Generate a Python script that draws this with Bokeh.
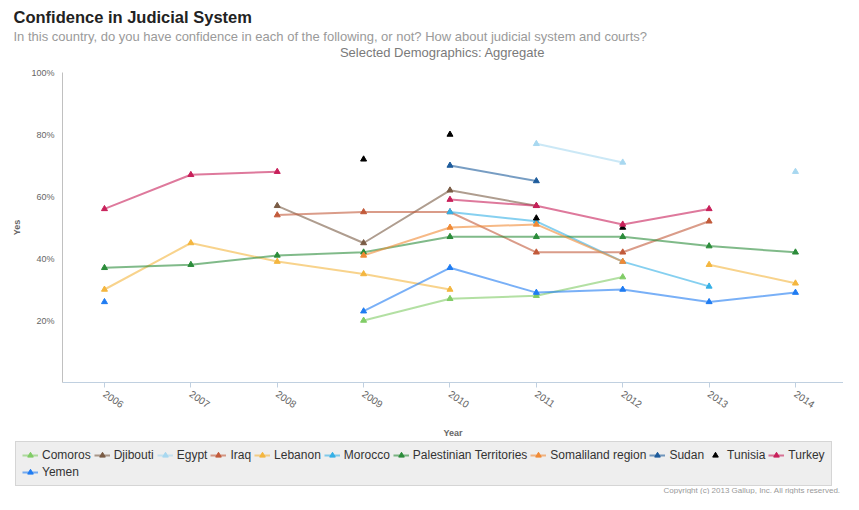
import numpy as np
from bokeh.plotting import figure
from bokeh.layouts import column
from bokeh.models import Range1d, FixedTicker, CustomJSTickFormatter, Legend, LegendItem, Label
from bokeh.embed import file_html
from bokeh.resources import INLINE

years = [2006, 2007, 2008, 2009, 2010, 2011, 2012, 2013, 2014]
year_labels = [str(y) for y in years]
y_ticks = [20, 40, 60, 80, 100]

comoros = [None, None, None, 20, 27, 28, 34, None, None]
djibouti = [None, None, 57, 45, 62, 57, None, None, None]
egypt = [None, None, None, None, None, 77, 71, None, 68]
iraq = [None, None, 54, 55, 55, 42, 42, 52, None]
lebanon = [30, 45, 39, 35, 30, None, None, 38, 32]
morocco = [None, None, None, None, 55, 52, 39, 31, None]
palestinian = [37, 38, 41, 42, 47, 47, 47, 44, 42]
somaliland = [None, None, None, 41, 50, 51, 39, None, None]
sudan = [None, None, None, None, 70, 65, None, None, None]
tunisia = [None, None, None, 72, 80, 53, 50, None, None]
turkey = [56, 67, 68, None, 59, 57, 51, 56, None]
yemen = [26, None, None, 23, 37, 29, 30, 26, 29]

series = [
    ("Comoros", comoros, "#80cc66", True),
    ("Djibouti", djibouti, "#7a5c45", True),
    ("Egypt", egypt, "#a8d8f0", True),
    ("Iraq", iraq, "#c25a3a", True),
    ("Lebanon", lebanon, "#f4b63f", True),
    ("Morocco", morocco, "#35b0e6", True),
    ("Palestinian Territories", palestinian, "#2b8c3a", True),
    ("Somaliland region", somaliland, "#f08a35", True),
    ("Sudan", sudan, "#1d5b9b", True),
    ("Tunisia", tunisia, "#000000", False),
    ("Turkey", turkey, "#c8205a", True),
    ("Yemen", yemen, "#1f7cf2", True),
]

W = 843
HH, HM, HL = 66, 374, 54          # header, main, legend strip heights (sum 494)
FL, FR, FT, FB = 62, 0, 6, 58
font = "Liberation Sans"

def blank(height):
    f = figure(width=W, height=height, output_backend="svg", toolbar_location=None, title=None,
               x_axis_type=None, y_axis_type=None, min_border=0,
               x_range=Range1d(0, 1), y_range=Range1d(0, 1))
    f.outline_line_color = None
    f.background_fill_color = "white"
    f.frame_align = False
    return f

def add_label(f, text, x, y, size, color, style="normal", align="left", baseline="middle"):
    f.add_layout(Label(x=x, y=y, x_units="screen", y_units="screen", text=text,
                       text_font=font, text_font_size=size, text_color=color,
                       text_font_style=style, text_align=align, text_baseline=baseline))

# ---- header
ph = blank(HH)
add_label(ph, "Confidence in Judicial System", 13, HH - 16, "16.5px", "#222222", style="bold")
add_label(ph, "In this country, do you have confidence in each of the following, or not? How about judicial system and courts?",
          13, HH - 36, "13px", "#9a9a9a")
add_label(ph, "Selected Demographics: Aggregate", 442, HH - 52, "13px", "#7a7a7a", align="center")

# ---- main chart
p = figure(width=W, height=HM, output_backend="svg", toolbar_location=None, title=None,
           x_range=Range1d(2005.514, 2014.556), y_range=Range1d(0, 100),
           min_border_left=FL, min_border_right=FR, min_border_top=FT, min_border_bottom=FB)
p.outline_line_color = None
p.grid.visible = False
p.background_fill_color = "white"
p.frame_align = False

# ---- legend strip (its renderers hold the same data but lie outside its visible range)
pl = blank(HL)

items = []
for name, vals, color, has_line in series:
    arr = np.array([np.nan if v is None else v for v in vals], dtype=float)
    rs = []
    if has_line:
        p.line(years, arr, line_color=color, line_width=2, line_alpha=0.6)
        rs.append(pl.line(years, arr, line_color=color, line_width=2, line_alpha=0.6))
    p.scatter(years, arr, marker="triangle", size=6, fill_color=color, line_color=color)
    rs.append(pl.scatter(years, arr, marker="triangle", size=6, fill_color=color, line_color=color))
    items.append(LegendItem(label=name, renderers=rs))

xa = p.xaxis[0]
xa.ticker = FixedTicker(ticks=years)
xa.major_label_overrides = {y: l for y, l in zip(years, year_labels)}
xa.major_label_orientation = -0.6
xa.major_label_text_font = font
xa.major_label_text_font_size = "10px"
xa.major_label_text_color = "#666666"
xa.axis_line_color = "#c0d0e0"
xa.major_tick_line_color = "#c0d0e0"
xa.major_tick_out = 5
xa.major_tick_in = 0
xa.minor_tick_line_color = None
xa.axis_label = "Year"
xa.axis_label_text_font = font
xa.axis_label_text_font_size = "9px"
xa.axis_label_text_font_style = "bold"
xa.axis_label_text_color = "#666666"
xa.axis_label_standoff = 13

ya = p.yaxis[0]
ya.ticker = FixedTicker(ticks=y_ticks)
ya.formatter = CustomJSTickFormatter(code="return tick + '%';")
ya.major_label_text_font = font
ya.major_label_text_font_size = "9px"
ya.major_label_text_color = "#666666"
ya.axis_line_color = "#c0c0c0"
ya.major_tick_line_color = None
ya.minor_tick_line_color = None
ya.major_label_standoff = 2
ya.axis_label = "Yes"
ya.axis_label_text_font = font
ya.axis_label_text_font_size = "9px"
ya.axis_label_text_font_style = "bold"
ya.axis_label_text_color = "#666666"
ya.axis_label_standoff = 6

legend = Legend(items=items, location=(15, 8), orientation="horizontal", ncols=11)
legend.label_text_font = font
legend.label_text_font_size = "12px"
legend.label_text_color = "#333333"
legend.glyph_width = 16
legend.glyph_height = 14
legend.label_height = 14
legend.label_standoff = 4
legend.spacing = 3
legend.padding = 6
legend.margin = 0
legend.background_fill_color = "#eeeeee"
legend.background_fill_alpha = 1.0
legend.border_line_color = "#bbbbbb"
legend.border_line_width = 1
pl.add_layout(legend, "center")

add_label(pl, "Copyright (c) 2013 Gallup, Inc. All rights reserved.", W - 3, 0, "8px", "#999999",
          align="right", baseline="bottom")

open("out.html", "w").write(file_html(column(ph, p, pl), INLINE))
